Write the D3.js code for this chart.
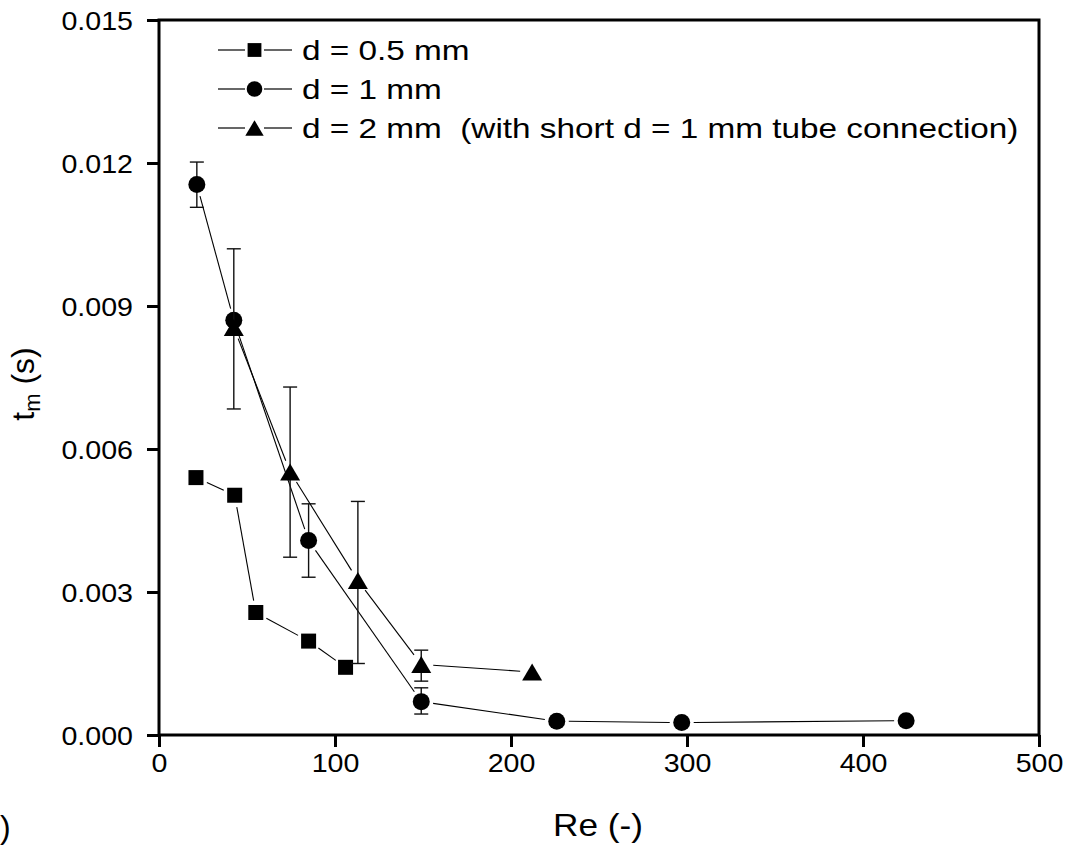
<!DOCTYPE html>
<html>
<head>
<meta charset="utf-8">
<script src="https://cdn.jsdelivr.net/npm/d3@7"></script>
<style>
  html, body { margin: 0; padding: 0; background: #fff; }
  svg { display: block; font-family: "Liberation Sans", Arial, sans-serif; }
  .keep-space { white-space: pre; }
</style>
</head>
<body>
<svg id="chart" width="1068" height="847"></svg>
<script>
// Mixing time t_m versus Reynolds number for three tube diameters
const seriesNames = ["d = 0.5 mm", "d = 1 mm", "d = 2 mm  (with short d = 1 mm tube connection)"];

// d = 0.5 mm
const reSmall = [21, 43, 55, 85, 106];
const tSmall  = [0.0054, 0.00503, 0.00257, 0.00197, 0.00142];

// d = 1 mm (with error bar limits where shown)
const reMid   = [21.5, 42.5, 85, 149, 226, 297, 424.5];
const tMid    = [0.01155, 0.0087, 0.00408, 0.0007, 0.00029, 0.00026, 0.0003];
const loMid   = [0.01107, null, 0.00331, 0.00044, null, null, null];
const hiMid   = [0.01202, null, 0.00485, 0.00099, null, null, null];

// d = 2 mm (with error bar limits where shown)
const reLarge = [42.5, 74.5, 113, 149, 212];
const tLarge  = [0.00855, 0.00552, 0.00324, 0.00148, 0.00132];
const loLarge = [0.00684, 0.00373, 0.0015, 0.00113, null];
const hiLarge = [0.0102, 0.0073, 0.0049, 0.00178, null];

const xTicks = [0, 100, 200, 300, 400, 500];
const yTicks = [0, 0.003, 0.006, 0.009, 0.012, 0.015];

const svg = d3.select("#chart");
const m = { left: 159, right: 1039, top: 20, bottom: 735 };
const STRETCH = 1.1;

const x = d3.scaleLinear().domain([0, 500]).range([m.left, m.right]);
const y = d3.scaleLinear().domain([0, 0.015]).range([m.bottom, m.top]);

svg.append("rect").attr("width", 1068).attr("height", 847).attr("fill", "#fff");

// Axes (ticks point outward)
const gx = svg.append("g").attr("transform", `translate(0,${m.bottom})`)
  .call(d3.axisBottom(x).tickValues(xTicks).tickSize(12).tickPadding(6).tickFormat(d3.format("d")));
const gy = svg.append("g").attr("transform", `translate(${m.left},0)`)
  .call(d3.axisLeft(y).tickValues(yTicks).tickSize(12).tickPadding(14).tickFormat(d3.format(".3f")));

[gx, gy].forEach(g => {
  g.select(".domain").remove();
  g.selectAll(".tick line").attr("stroke", "#000").attr("stroke-width", 3);
  g.selectAll(".tick text").attr("fill", "#000").attr("font-size", 26)
    .attr("font-family", "'Liberation Sans', Arial, sans-serif");
});
gx.selectAll(".tick text").attr("y", null).attr("dy", null)
  .attr("transform", `translate(0,37) scale(${STRETCH},1)`);
gy.selectAll(".tick text").attr("x", null)
  .attr("transform", `translate(-26,0) scale(${STRETCH},1)`).attr("dy", "0.35em");

// Frame
svg.append("rect")
  .attr("x", m.left).attr("y", m.top)
  .attr("width", m.right - m.left).attr("height", m.bottom - m.top)
  .attr("fill", "none").attr("stroke", "#000").attr("stroke-width", 3);

// Axis titles
svg.append("text")
  .attr("transform", `translate(598,836) scale(${STRETCH},1)`)
  .attr("text-anchor", "middle").attr("font-size", 32).text("Re (-)");

const yt = svg.append("text")
  .attr("transform", "translate(34,384) rotate(-90)")
  .attr("text-anchor", "middle").attr("font-size", 32);
yt.append("tspan").text("t");
yt.append("tspan").attr("font-size", 22).attr("dy", 6).text("m");
yt.append("tspan").attr("dy", -6).text(" (s)");

svg.append("text").attr("x", 0).attr("y", 838).attr("font-size", 32).text(")");

// Marker shapes
const SQ = 15, CR = 8.5, TW = 20, TH = 17;
function drawMarker(g, shape, cx, cy, k = 1) {
  if (shape === "square") {
    g.append("rect").attr("x", cx - SQ * k / 2).attr("y", cy - SQ * k / 2)
      .attr("width", SQ * k).attr("height", SQ * k).attr("fill", "#000");
  } else if (shape === "circle") {
    g.append("circle").attr("cx", cx).attr("cy", cy).attr("r", CR * k).attr("fill", "#000");
  } else {
    const w = TW * k, h = TH * k;
    g.append("path")
      .attr("d", `M${cx},${cy - h / 2}L${cx + w / 2},${cy + h / 2}L${cx - w / 2},${cy + h / 2}Z`)
      .attr("fill", "#000");
  }
}

const series = [
  { re: reSmall, t: tSmall, lo: null, hi: null, shape: "square" },
  { re: reMid, t: tMid, lo: loMid, hi: hiMid, shape: "circle" },
  { re: reLarge, t: tLarge, lo: loLarge, hi: hiLarge, shape: "triangle" }
];

const plot = svg.append("g");
const GAP = 12;

series.forEach(s => {
  const pts = s.re.map((r, i) => [x(r), y(s.t[i])]);
  // connecting segments, stopping short of each symbol
  for (let i = 0; i < pts.length - 1; i++) {
    const [x0, y0] = pts[i], [x1, y1] = pts[i + 1];
    const dx = x1 - x0, dy = y1 - y0, len = Math.hypot(dx, dy);
    if (len <= 2 * GAP) continue;
    const ux = dx / len, uy = dy / len;
    plot.append("line")
      .attr("x1", x0 + ux * GAP).attr("y1", y0 + uy * GAP)
      .attr("x2", x1 - ux * GAP).attr("y2", y1 - uy * GAP)
      .attr("stroke", "#000").attr("stroke-width", 1.1);
  }
  // error bars
  if (s.lo) {
    s.re.forEach((r, i) => {
      if (s.lo[i] == null) return;
      const cx = x(r), ylo = y(s.lo[i]), yhi = y(s.hi[i]);
      plot.append("line").attr("x1", cx).attr("x2", cx).attr("y1", yhi).attr("y2", ylo)
        .attr("stroke", "#111").attr("stroke-width", 1.4);
      [ylo, yhi].forEach(yy => plot.append("line")
        .attr("x1", cx - 7).attr("x2", cx + 7).attr("y1", yy).attr("y2", yy)
        .attr("stroke", "#111").attr("stroke-width", 1.4));
    });
  }
  pts.forEach(([cx, cy]) => drawMarker(plot, s.shape, cx, cy));
});

// Legend
const legend = svg.append("g");
const rowsY = [50, 89, 128];
series.forEach((s, i) => {
  const cy = rowsY[i];
  legend.append("line").attr("x1", 218).attr("x2", 245).attr("y1", cy).attr("y2", cy)
    .attr("stroke", "#000").attr("stroke-width", 1.2);
  legend.append("line").attr("x1", 264).attr("x2", 292).attr("y1", cy).attr("y2", cy)
    .attr("stroke", "#000").attr("stroke-width", 1.2);
  drawMarker(legend, s.shape, 254.5, cy, 0.92);
  legend.append("text")
    .attr("class", "keep-space")
    .attr("transform", `translate(302,${cy + 10}) scale(1.19,1)`)
    .attr("font-size", 28).text(seriesNames[i]);
});
</script>
</body>
</html>
